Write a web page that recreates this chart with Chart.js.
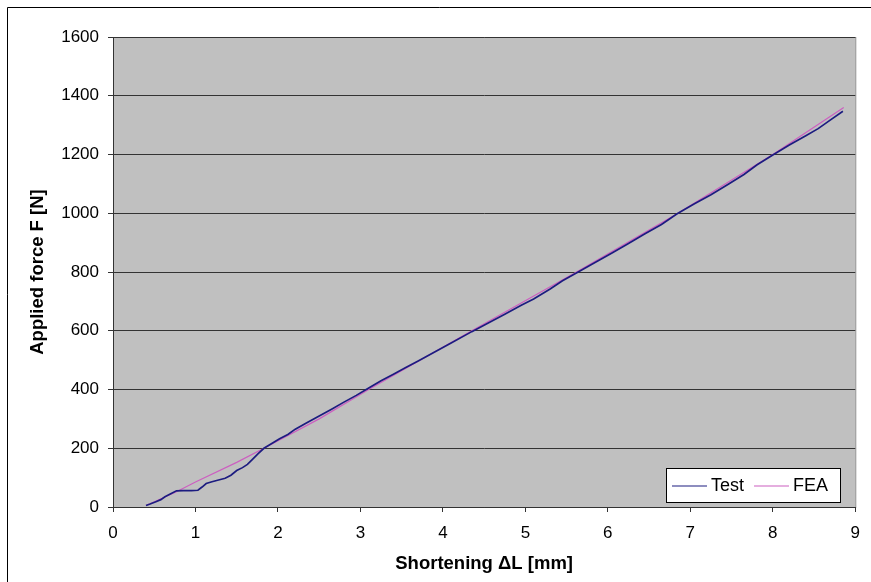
<!DOCTYPE html>
<html>
<head>
<meta charset="utf-8">
<script src="https://cdn.jsdelivr.net/npm/chart.js@4/dist/chart.umd.min.js"></script>
<style>
  html, body { margin: 0; padding: 0; background: #fff; }
  #wrap { position: relative; width: 871px; height: 582px; }
</style>
</head>
<body>
<div id="wrap"><canvas id="myChart" width="871" height="582"></canvas></div>
<script>
// Test curve (shortening in mm, force in N)
const testX = [0.40, 0.45, 0.52, 0.58, 0.63, 0.70, 0.77, 0.85, 0.95, 1.03, 1.08, 1.13, 1.20, 1.28,
  1.36, 1.43, 1.50, 1.57, 1.63, 1.70, 1.76, 1.83, 1.92, 2.02, 2.12, 2.21, 2.35, 2.50, 2.65, 2.80,
  2.95, 3.08, 3.25, 3.40, 3.55, 3.70, 3.85, 3.95, 4.10, 4.35, 4.55, 4.75, 4.95, 5.10, 5.30, 5.45,
  5.64, 5.85, 6.05, 6.25, 6.45, 6.65, 6.84, 7.05, 7.25, 7.45, 7.65, 7.81, 8.00, 8.20, 8.40, 8.55,
  8.70, 8.85];
const testY = [5, 10, 18, 25, 35, 45, 55, 56, 56, 57, 68, 80, 86, 92,
  98, 108, 124, 134, 145, 165, 182, 200, 215, 232, 247, 265, 287, 310, 333, 357,
  380, 402, 430, 452, 475, 497, 520, 535, 558, 597, 626, 656, 687, 708, 742, 770,
  800, 833, 865, 897, 930, 962, 998, 1032, 1063, 1097, 1132, 1165, 1198, 1232, 1264, 1288,
  1318, 1347];

// FEA curve
const feaX = [0.40, 0.77, 1.00, 1.50, 1.83, 2.50, 3.10, 4.35, 5.62, 6.85, 8.00, 8.86];
const feaY = [5, 52, 85, 152, 200, 300, 400, 600, 800, 1000, 1200, 1360];

const seriesNames = ["Test", "FEA"];
const seriesColors = ["#1c1c80", "#cc5fc0"];

const yTicks = [0, 200, 400, 600, 800, 1000, 1200, 1400, 1600];
const xTicks = [0, 1, 2, 3, 4, 5, 6, 7, 8, 9];

const FONT = "'Liberation Sans', Arial, sans-serif";

const toPoints = (xs, ys) => xs.map((x, i) => ({ x: x, y: ys[i] }));

// grey plot background, frame round the figure
const framePlugin = {
  id: "frame",
  beforeDraw(chart) {
    const { ctx, chartArea } = chart;
    ctx.save();
    ctx.fillStyle = "#ffffff";
    ctx.fillRect(0, 0, chart.width, chart.height);
    ctx.strokeStyle = "#000";
    ctx.lineWidth = 1;
    ctx.beginPath();
    ctx.moveTo(7.5, chart.height);
    ctx.lineTo(7.5, 7.5);
    ctx.lineTo(chart.width, 7.5);
    ctx.stroke();
    ctx.fillStyle = "#c0c0c0";
    ctx.fillRect(chartArea.left, chartArea.top, chartArea.right - chartArea.left, chartArea.bottom - chartArea.top);
    ctx.strokeStyle = "#8a8a8a";
    ctx.strokeRect(chartArea.left + 0.5, chartArea.top + 0.5, chartArea.right - chartArea.left, chartArea.bottom - chartArea.top);
    ctx.restore();
  },
};

// legend box inside the plot, bottom right
const legendPlugin = {
  id: "boxLegend",
  afterDraw(chart) {
    const ctx = chart.ctx;
    const bx = 666, by = 468, bw = 174, bh = 34;
    ctx.save();
    ctx.fillStyle = "#fff";
    ctx.fillRect(bx, by, bw, bh);
    ctx.strokeStyle = "#000";
    ctx.lineWidth = 1;
    ctx.strokeRect(bx + 0.5, by + 0.5, bw, bh);
    ctx.font = "18px " + FONT;
    ctx.textBaseline = "middle";
    ctx.fillStyle = "#000";
    const cy = by + bh / 2 + 1;
    let x = bx + 6;
    chart.data.datasets.forEach((ds) => {
      ctx.strokeStyle = ds.borderColor;
      ctx.lineWidth = 1.2;
      ctx.beginPath();
      ctx.moveTo(x, cy);
      ctx.lineTo(x + 35, cy);
      ctx.stroke();
      ctx.fillText(ds.label, x + 39, cy);
      x += 39 + ctx.measureText(ds.label).width + 10;
    });
    ctx.restore();
  },
};

const ctx = document.getElementById("myChart").getContext("2d");
const myChart = new Chart(ctx, {
  type: "line",
  data: {
    datasets: [
      {
        label: seriesNames[0],
        data: toPoints(testX, testY),
        borderColor: seriesColors[0],
        borderWidth: 1.7,
        pointRadius: 0,
        tension: 0,
      },
      {
        label: seriesNames[1],
        data: toPoints(feaX, feaY),
        borderColor: seriesColors[1],
        borderWidth: 1.2,
        pointRadius: 0,
        tension: 0,
      },
    ],
  },
  options: {
    responsive: false,
    animation: false,
    layout: { padding: { top: 37, right: 12, left: 0, bottom: 0 } },
    plugins: {
      legend: { display: false },
      tooltip: { enabled: false },
    },
    scales: {
      x: {
        type: "linear",
        min: 0,
        max: 9,
        afterBuildTicks: (axis) => { axis.ticks = xTicks.map((v) => ({ value: v })); },
        afterFit: (axis) => { axis.height = 75; },
        grid: { drawOnChartArea: false, drawTicks: true, tickLength: 5, color: "#333" },
        border: { color: "#333", width: 1 },
        ticks: {
          color: "#000",
          font: { family: FONT, size: 17 },
          padding: 11,
          maxRotation: 0,
          callback: (v) => String(v),
        },
        title: {
          display: true,
          text: "Shortening \u0394L [mm]",
          color: "#000",
          font: { family: FONT, size: 18.5, weight: "bold" },
          padding: { top: 0, bottom: 7 },
        },
      },
      y: {
        min: 0,
        max: 1600,
        afterBuildTicks: (axis) => { axis.ticks = yTicks.map((v) => ({ value: v })); },
        afterFit: (axis) => { axis.width = 113; },
        grid: { color: "#333", tickLength: 5, lineWidth: 1 },
        border: { color: "#333", width: 1 },
        ticks: {
          color: "#000",
          font: { family: FONT, size: 17 },
          padding: 9,
          callback: (v) => String(v),
        },
        title: {
          display: true,
          text: "Applied force F [N]",
          color: "#000",
          font: { family: FONT, size: 18.5, weight: "bold" },
          padding: { top: 27, bottom: 0 },
        },
      },
    },
  },
  plugins: [framePlugin, legendPlugin],
});
</script>
</body>
</html>
